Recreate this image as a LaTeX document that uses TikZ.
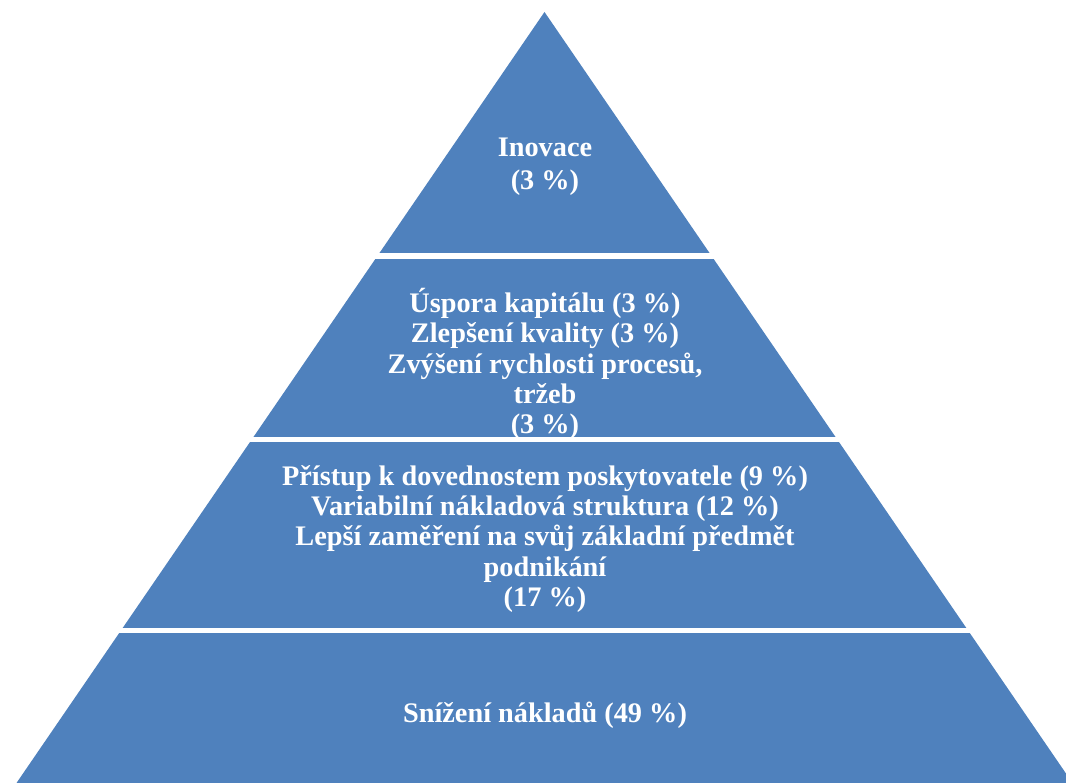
\documentclass[tikz,border=0pt]{standalone}
\usepackage{fontspec}
\setmainfont{Liberation Serif}
\definecolor{pyrblue}{HTML}{4F81BD}
\begin{document}
\begin{tikzpicture}[x=1pt,y=-1pt,
  lbl/.style={text=white,font=\bfseries\fontsize{28.3}{30.3}\selectfont,align=center,inner sep=0pt},
  gap/.style={fill=white}]
\useasboundingbox (0,0) rectangle (1066,783);
\clip (0,0) rectangle (1066,783);
\coordinate (apex) at (544.5,12);
\coordinate (bl) at (16.5,783);
\coordinate (br) at (1072.5,783);
\fill[pyrblue] (apex) -- (br) -- (bl) -- cycle;
\fill[gap] (0,253) rectangle (1066,259.5);
\fill[gap] (0,437) rectangle (1066,442.5);
\fill[gap] (0,628) rectangle (1066,633);
\node[lbl,font=\bfseries\fontsize{28.3}{33}\selectfont] (l1) at (545,167) {Inovace\\(3~\%)};
\node[lbl] (l2) at (545,364) {Úspora kapitálu (3~\%)\\Zlepšení kvality (3~\%)\\Zvýšení rychlosti procesů,\\tržeb\\(3~\%)};
\node[lbl] (l3) at (545,539) {Přístup k dovednostem poskytovatele (9~\%)\\Variabilní nákladová struktura (12~\%)\\Lepší zaměření na svůj základní předmět\\podnikání\\(17~\%)};
\node[lbl] (l4) at (545,715) {Snížení nákladů (49~\%)};
\end{tikzpicture}
\end{document}
